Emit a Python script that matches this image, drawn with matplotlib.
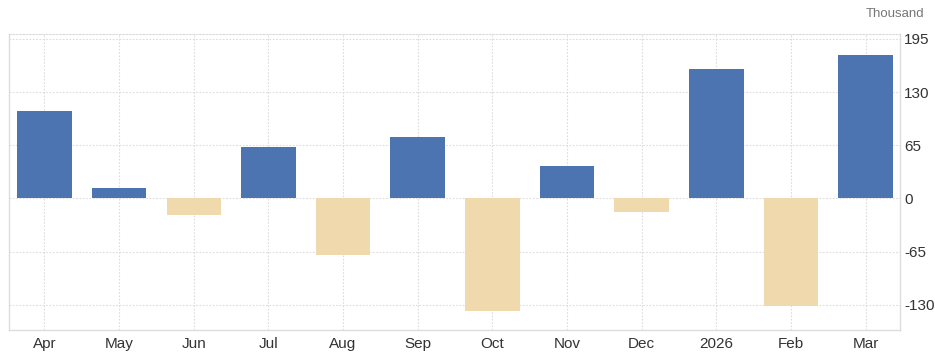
import numpy as np
import matplotlib.pyplot as plt

# Monthly change, thousand
months = ['Apr', 'May', 'Jun', 'Jul', 'Aug', 'Sep', 'Oct', 'Nov', 'Dec', '2026', 'Feb', 'Mar']
values = [107, 13, -20, 63, -69, 75, -138, 40, -16, 158, -131, 175]
y_ticks = [-130, -65, 0, 65, 130, 195]

BLUE = '#4c74b0'
BEIGE = '#f0d9ad'
GRID = '#dcdcdc'

plt.rcParams['font.family'] = ['Liberation Sans', 'DejaVu Sans']


def main():
    fig = plt.figure(figsize=(9.35, 3.62), dpi=100)
    ax = fig.add_axes([0.0096, 0.088, 0.953, 0.818])

    x = np.arange(len(months))
    colors = [BLUE if v >= 0 else BEIGE for v in values]
    ax.bar(x, values, width=0.73, color=colors, zorder=3)

    ax.set_xlim(-0.475, len(months) - 0.54)
    ax.set_ylim(-161, 201)

    ax.set_xticks(x)
    ax.set_xticklabels(months, fontsize=11, color='#333333')
    ax.set_yticks(y_ticks)
    ax.set_yticklabels([str(t) for t in y_ticks], fontsize=11, color='#333333')
    ax.yaxis.tick_right()
    ax.tick_params(axis='x', length=0, pad=5)
    ax.tick_params(axis='y', length=0, pad=3)

    ax.grid(True, color=GRID, linestyle=(0, (1.5, 1.5)), linewidth=0.8, zorder=0)

    for side in ['left', 'bottom', 'right']:
        ax.spines[side].set_color('#dddddd')
        ax.spines[side].set_linewidth(1.0)
    ax.spines['top'].set_color(GRID)
    ax.spines['top'].set_linestyle((0, (1.5, 1.5)))
    ax.spines['top'].set_linewidth(0.8)

    fig.text(0.989, 0.962, 'Thousand', ha='right', va='center',
             fontsize=9.5, color='#777777')

    fig.savefig('out.png', dpi=100)


if __name__ == '__main__':
    main()
